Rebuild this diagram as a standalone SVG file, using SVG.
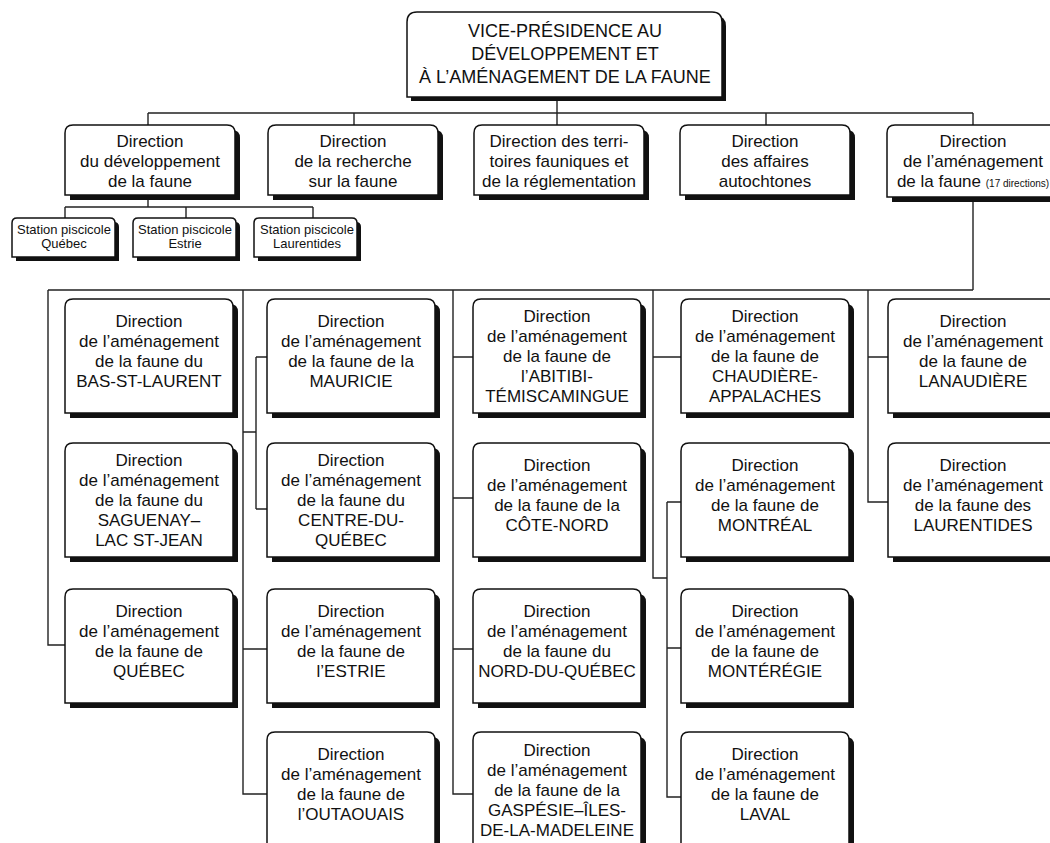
<svg xmlns="http://www.w3.org/2000/svg" xmlns:xlink="http://www.w3.org/1999/xlink" width="1050" height="843" viewBox="0 0 1050 843">
<style>
text{font-family:"Liberation Sans",Arial,sans-serif;fill:#111;text-anchor:middle}
.t{font-size:17px}
.top{font-size:18px}
.s{font-size:13px}
.sm{font-size:10px}
.sh{fill:#111;stroke:none}
.bx{fill:#fff;stroke:#111;stroke-width:1.5}
#connectors path{fill:none;stroke:#222;stroke-width:1.4}
</style>
<defs>
<path id="g" d="M0,114 V8 Q0,0 8,0 H160 Q168,0 168,8 V114 Z"/>
<path id="d" d="M0,70 V8 Q0,0 8,0 H162 Q170,0 170,8 V70 Z"/>
<path id="st" d="M0,39 V5 Q0,0 5,0 H98 Q103,0 103,5 V39 Z"/>
</defs>
<rect width="1050" height="843" fill="#fff"/>
<g id="connectors">
<path d="M557,97 V113 M148,113 H973 M148,113 V125 M354,113 V125 M557,113 V125 M766,113 V125 M973,113 V125"/>
<path d="M148,195 V207 M65,207 H313 M65,207 V218 M186,207 V218 M313,207 V218"/>
<path d="M973,197 V290 M48,290 H973"/>
<path d="M48,290 V645 H65"/>
<path d="M243,290 V794 H267 M243,649 H267 M243,432 H256 M256,357 V509 M256,357 H267 M256,509 H267"/>
<path d="M453,290 V794 H473 M453,357 H473 M453,498 H473 M453,649 H473"/>
<path d="M653,290 V578 H667 M653,357 H681 M667,502 V797 H681 M667,502 H681 M667,648 H681"/>
<path d="M868,290 V502 H888 M868,357 H888"/>
</g>
<g id="vp">
<path class="sh" d="M411,101 V26 Q411,16 421,16 H716 Q726,16 726,26 V101 Z"/>
<path class="bx" d="M407,97 V22 Q407,12 417,12 H712 Q722,12 722,22 V97 Z"/>
<text class="top"><tspan x="565" y="37">VICE-PRÉSIDENCE AU</tspan><tspan x="565" y="60">DÉVELOPPEMENT ET</tspan><tspan x="565" y="83">À L’AMÉNAGEMENT DE LA FAUNE</tspan></text>
</g>
<g id="d1"><use href="#d" x="70" y="130" class="sh"/><use href="#d" x="65" y="125" class="bx"/>
<text class="t"><tspan x="150" y="147">Direction</tspan><tspan x="150" y="167">du développement</tspan><tspan x="150" y="187">de la faune</tspan></text></g>
<g id="d2"><use href="#d" x="273" y="130" class="sh"/><use href="#d" x="268" y="125" class="bx"/>
<text class="t"><tspan x="353" y="147">Direction</tspan><tspan x="353" y="167">de la recherche</tspan><tspan x="353" y="187">sur la faune</tspan></text></g>
<g id="d3"><use href="#d" x="479" y="130" class="sh"/><use href="#d" x="474" y="125" class="bx"/>
<text class="t"><tspan x="559" y="147">Direction des terri-</tspan><tspan x="559" y="167">toires fauniques et</tspan><tspan x="559" y="187">de la réglementation</tspan></text></g>
<g id="d4"><use href="#d" x="685" y="130" class="sh"/><use href="#d" x="680" y="125" class="bx"/>
<text class="t"><tspan x="765" y="147">Direction</tspan><tspan x="765" y="167">des affaires</tspan><tspan x="765" y="187">autochtones</tspan></text></g>
<g id="d5"><path class="sh" d="M892,202 V138 Q892,130 900,130 H1056 Q1064,130 1064,138 V202 Z"/><path class="bx" d="M887,197 V133 Q887,125 895,125 H1051 Q1059,125 1059,133 V197 Z"/>
<text class="t"><tspan x="973" y="147">Direction</tspan><tspan x="973" y="167">de l’aménagement</tspan><tspan x="973" y="187">de la faune <tspan class="sm">(17 directions)</tspan></tspan></text></g>
<g id="s1"><use href="#st" x="16" y="222" class="sh"/><use href="#st" x="12" y="218" class="bx"/>
<text class="s"><tspan x="64" y="234">Station piscicole</tspan><tspan x="64" y="248">Québec</tspan></text></g>
<g id="s2"><use href="#st" x="137" y="222" class="sh"/><use href="#st" x="133" y="218" class="bx"/>
<text class="s"><tspan x="185" y="234">Station piscicole</tspan><tspan x="185" y="248">Estrie</tspan></text></g>
<g id="s3"><use href="#st" x="258" y="222" class="sh"/><use href="#st" x="254" y="218" class="bx"/>
<text class="s"><tspan x="307" y="234">Station piscicole</tspan><tspan x="307" y="248">Laurentides</tspan></text></g>

<g id="bsl"><use href="#g" x="70" y="304" class="sh"/><use href="#g" x="65" y="299" class="bx"/>
<text class="t"><tspan x="149" y="327">Direction</tspan><tspan x="149" y="347">de l’aménagement</tspan><tspan x="149" y="367">de la faune du</tspan><tspan x="149" y="387">BAS-ST-LAURENT</tspan></text></g>
<g id="sag"><use href="#g" x="70" y="448" class="sh"/><use href="#g" x="65" y="443" class="bx"/>
<text class="t"><tspan x="149" y="466">Direction</tspan><tspan x="149" y="486">de l’aménagement</tspan><tspan x="149" y="506">de la faune du</tspan><tspan x="149" y="526">SAGUENAY–</tspan><tspan x="149" y="546">LAC ST-JEAN</tspan></text></g>
<g id="que"><use href="#g" x="70" y="594" class="sh"/><use href="#g" x="65" y="589" class="bx"/>
<text class="t"><tspan x="149" y="617">Direction</tspan><tspan x="149" y="637">de l’aménagement</tspan><tspan x="149" y="657">de la faune de</tspan><tspan x="149" y="677">QUÉBEC</tspan></text></g>

<g id="mau"><use href="#g" x="272" y="304" class="sh"/><use href="#g" x="267" y="299" class="bx"/>
<text class="t"><tspan x="351" y="327">Direction</tspan><tspan x="351" y="347">de l’aménagement</tspan><tspan x="351" y="367">de la faune de la</tspan><tspan x="351" y="387">MAURICIE</tspan></text></g>
<g id="cdq"><use href="#g" x="272" y="448" class="sh"/><use href="#g" x="267" y="443" class="bx"/>
<text class="t"><tspan x="351" y="466">Direction</tspan><tspan x="351" y="486">de l’aménagement</tspan><tspan x="351" y="506">de la faune du</tspan><tspan x="351" y="526">CENTRE-DU-</tspan><tspan x="351" y="546">QUÉBEC</tspan></text></g>
<g id="est"><use href="#g" x="272" y="594" class="sh"/><use href="#g" x="267" y="589" class="bx"/>
<text class="t"><tspan x="351" y="617">Direction</tspan><tspan x="351" y="637">de l’aménagement</tspan><tspan x="351" y="657">de la faune de</tspan><tspan x="351" y="677">l’ESTRIE</tspan></text></g>
<g id="out"><use href="#g" x="272" y="737" class="sh"/><use href="#g" x="267" y="732" class="bx"/>
<text class="t"><tspan x="351" y="760">Direction</tspan><tspan x="351" y="780">de l’aménagement</tspan><tspan x="351" y="800">de la faune de</tspan><tspan x="351" y="820">l’OUTAOUAIS</tspan></text></g>

<g id="abi"><use href="#g" x="478" y="304" class="sh"/><use href="#g" x="473" y="299" class="bx"/>
<text class="t"><tspan x="557" y="322">Direction</tspan><tspan x="557" y="342">de l’aménagement</tspan><tspan x="557" y="362">de la faune de</tspan><tspan x="557" y="382">l’ABITIBI-</tspan><tspan x="557" y="402">TÉMISCAMINGUE</tspan></text></g>
<g id="cno"><use href="#g" x="478" y="448" class="sh"/><use href="#g" x="473" y="443" class="bx"/>
<text class="t"><tspan x="557" y="471">Direction</tspan><tspan x="557" y="491">de l’aménagement</tspan><tspan x="557" y="511">de la faune de la</tspan><tspan x="557" y="531">CÔTE-NORD</tspan></text></g>
<g id="ndq"><use href="#g" x="478" y="594" class="sh"/><use href="#g" x="473" y="589" class="bx"/>
<text class="t"><tspan x="557" y="617">Direction</tspan><tspan x="557" y="637">de l’aménagement</tspan><tspan x="557" y="657">de la faune du</tspan><tspan x="557" y="677">NORD-DU-QUÉBEC</tspan></text></g>
<g id="gas"><use href="#g" x="478" y="737" class="sh"/><use href="#g" x="473" y="732" class="bx"/>
<text class="t"><tspan x="557" y="756">Direction</tspan><tspan x="557" y="776">de l’aménagement</tspan><tspan x="557" y="796">de la faune de la</tspan><tspan x="557" y="816">GASPÉSIE–ÎLES-</tspan><tspan x="557" y="836">DE-LA-MADELEINE</tspan></text></g>

<g id="cha"><use href="#g" x="686" y="304" class="sh"/><use href="#g" x="681" y="299" class="bx"/>
<text class="t"><tspan x="765" y="322">Direction</tspan><tspan x="765" y="342">de l’aménagement</tspan><tspan x="765" y="362">de la faune de</tspan><tspan x="765" y="382">CHAUDIÈRE-</tspan><tspan x="765" y="402">APPALACHES</tspan></text></g>
<g id="mtl"><use href="#g" x="686" y="448" class="sh"/><use href="#g" x="681" y="443" class="bx"/>
<text class="t"><tspan x="765" y="471">Direction</tspan><tspan x="765" y="491">de l’aménagement</tspan><tspan x="765" y="511">de la faune de</tspan><tspan x="765" y="531">MONTRÉAL</tspan></text></g>
<g id="mon"><use href="#g" x="686" y="594" class="sh"/><use href="#g" x="681" y="589" class="bx"/>
<text class="t"><tspan x="765" y="617">Direction</tspan><tspan x="765" y="637">de l’aménagement</tspan><tspan x="765" y="657">de la faune de</tspan><tspan x="765" y="677">MONTÉRÉGIE</tspan></text></g>
<g id="lav"><use href="#g" x="686" y="737" class="sh"/><use href="#g" x="681" y="732" class="bx"/>
<text class="t"><tspan x="765" y="760">Direction</tspan><tspan x="765" y="780">de l’aménagement</tspan><tspan x="765" y="800">de la faune de</tspan><tspan x="765" y="820">LAVAL</tspan></text></g>

<g id="lan"><path class="sh" d="M893,418 V312 Q893,304 901,304 H1058 Q1066,304 1066,312 V418 Z"/><path class="bx" d="M888,413 V307 Q888,299 896,299 H1053 Q1061,299 1061,307 V413 Z"/>
<text class="t"><tspan x="973" y="327">Direction</tspan><tspan x="973" y="347">de l’aménagement</tspan><tspan x="973" y="367">de la faune de</tspan><tspan x="973" y="387">LANAUDIÈRE</tspan></text></g>
<g id="lau"><path class="sh" d="M893,562 V456 Q893,448 901,448 H1058 Q1066,448 1066,456 V562 Z"/><path class="bx" d="M888,557 V451 Q888,443 896,443 H1053 Q1061,443 1061,451 V557 Z"/>
<text class="t"><tspan x="973" y="471">Direction</tspan><tspan x="973" y="491">de l’aménagement</tspan><tspan x="973" y="511">de la faune des</tspan><tspan x="973" y="531">LAURENTIDES</tspan></text></g>
</svg>
